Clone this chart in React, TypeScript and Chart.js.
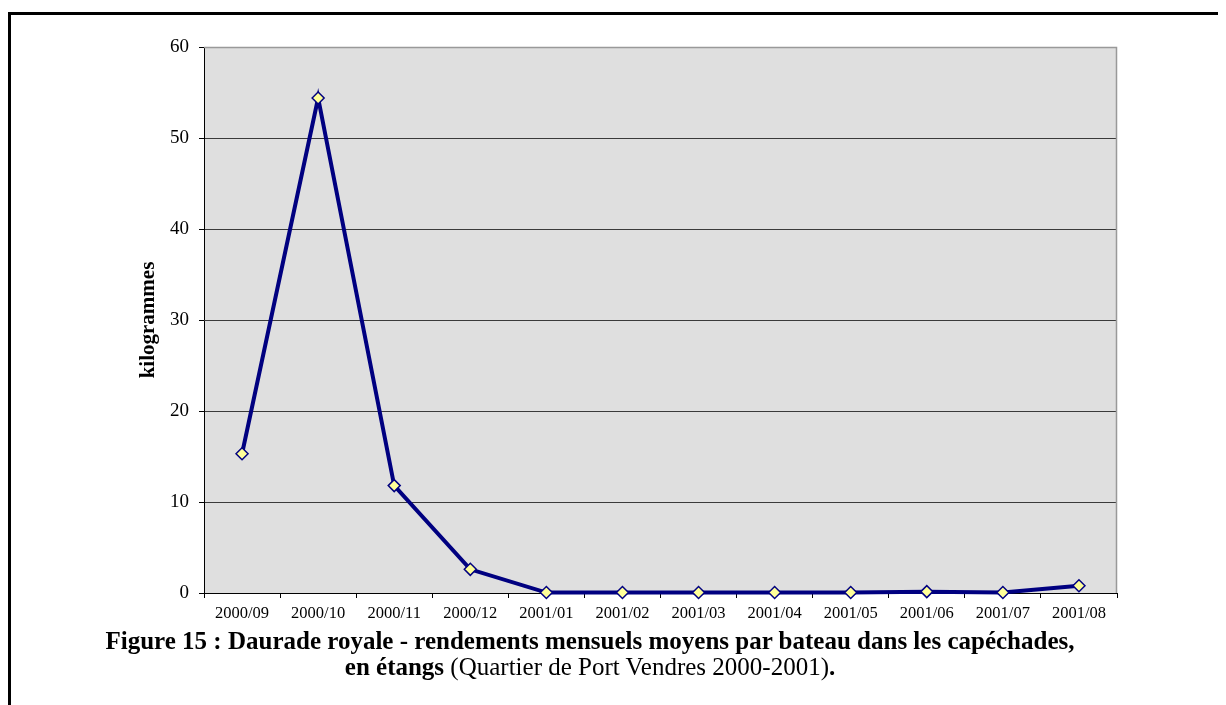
import React, { useEffect, useRef } from "react";
import { Chart, registerables } from "chart.js";

Chart.register(...registerables);

const months = [
  "2000/09", "2000/10", "2000/11", "2000/12", "2001/01", "2001/02",
  "2001/03", "2001/04", "2001/05", "2001/06", "2001/07", "2001/08",
];
const rendements = [15.3, 54.4, 11.8, 2.6, 0.05, 0.05, 0.05, 0.05, 0.05, 0.15, 0.05, 0.8];
const yTicks = [0, 10, 20, 30, 40, 50, 60];
const yTitle = "kilogrammes";
const captionBold1 = "Figure 15 : Daurade royale - rendements mensuels moyens par bateau dans les capéchades,";
const captionBold2 = "en étangs";
const captionNormal = " (Quartier de Port Vendres 2000-2001)";
const captionEnd = ".";

const SERIF = "'Liberation Serif', 'Times New Roman', serif";

const plotBg = {
  id: "plotBg",
  beforeDraw(chart: any) {
    const { ctx, chartArea } = chart;
    ctx.save();
    ctx.fillStyle = "#dfdfdf";
    ctx.fillRect(chartArea.left, chartArea.top, chartArea.right - chartArea.left, chartArea.bottom - chartArea.top);
    ctx.restore();
  },
  beforeDatasetsDraw(chart: any) {
    const { ctx, chartArea } = chart;
    ctx.save();
    ctx.strokeStyle = "#999999";
    ctx.lineWidth = 1.5;
    ctx.beginPath();
    ctx.moveTo(chartArea.left, chartArea.top + 0.5);
    ctx.lineTo(chartArea.right - 0.5, chartArea.top + 0.5);
    ctx.lineTo(chartArea.right - 0.5, chartArea.bottom);
    ctx.stroke();
    ctx.restore();
  },
};

export default function App() {
  const ref = useRef<HTMLCanvasElement | null>(null);
  useEffect(() => {
    if (!ref.current) return;
    const chart = new Chart(ref.current, {
      type: "line",
      data: {
        labels: months,
        datasets: [
          {
            data: rendements,
            borderColor: "#000080",
            borderWidth: 4,
            pointStyle: "rectRot",
            pointRadius: 6,
            pointBackgroundColor: "#ffff99",
            pointBorderColor: "#000080",
            pointBorderWidth: 1.5,
            tension: 0,
            clip: false as any,
          },
        ],
      },
      options: {
        animation: false,
        responsive: false,
        devicePixelRatio: 1,
        layout: { padding: { left: 0, top: 39, right: 109, bottom: 0 } },
        plugins: { legend: { display: false }, tooltip: { enabled: false } },
        scales: {
          x: {
            offset: true,
            grid: { offset: true, drawOnChartArea: false, color: "#000000", tickLength: 5, lineWidth: 1 },
            border: { color: "#000000", width: 1 },
            ticks: { color: "#000000", font: { family: SERIF, size: 16.5 }, maxRotation: 0, autoSkip: false, padding: 6 },
            afterFit(s: any) { s.height = 112; },
          },
          y: {
            min: 0,
            max: 60,
            afterBuildTicks(s: any) { s.ticks = yTicks.map((v) => ({ value: v })); },
            grid: {
              color: (c: any) => (c.tick && c.tick.value === 60 ? "#999999" : "#3a3a3a"),
              tickColor: "#000000",
              tickLength: 5,
              lineWidth: 1,
            },
            border: { color: "#000000", width: 1 },
            ticks: { color: "#000000", font: { family: SERIF, size: 19 }, padding: 10 },
            title: {
              display: true,
              text: yTitle,
              color: "#000000",
              font: { family: SERIF, size: 21, weight: "bold" },
              padding: { top: 128, bottom: 0 },
            },
            afterFit(s: any) { s.width = 196; },
          },
        },
      },
      plugins: [plotBg],
    });
    return () => chart.destroy();
  }, []);

  return (
    <div style={{ position: "relative", width: 1218, height: 697, overflow: "hidden" }}>
      <div
        style={{
          position: "absolute",
          left: 0,
          top: 4,
          width: 1240,
          height: 740,
          border: "3px solid #000",
          boxSizing: "border-box",
        }}
      />
      <canvas ref={ref} width={1218} height={697} style={{ position: "absolute", left: 0, top: 0, width: 1218, height: 697 }} />
      <div
        style={{
          position: "absolute",
          left: 0,
          width: 1164,
          top: 620,
          textAlign: "center",
          fontFamily: SERIF,
          fontSize: 25,
          lineHeight: "26px",
          color: "#000",
        }}
      >
        <div style={{ fontWeight: "bold" }}>{captionBold1}</div>
        <div>
          <span style={{ fontWeight: "bold" }}>{captionBold2}</span>
          <span>{captionNormal}</span>
          <span style={{ fontWeight: "bold" }}>{captionEnd}</span>
        </div>
      </div>
    </div>
  );
}
